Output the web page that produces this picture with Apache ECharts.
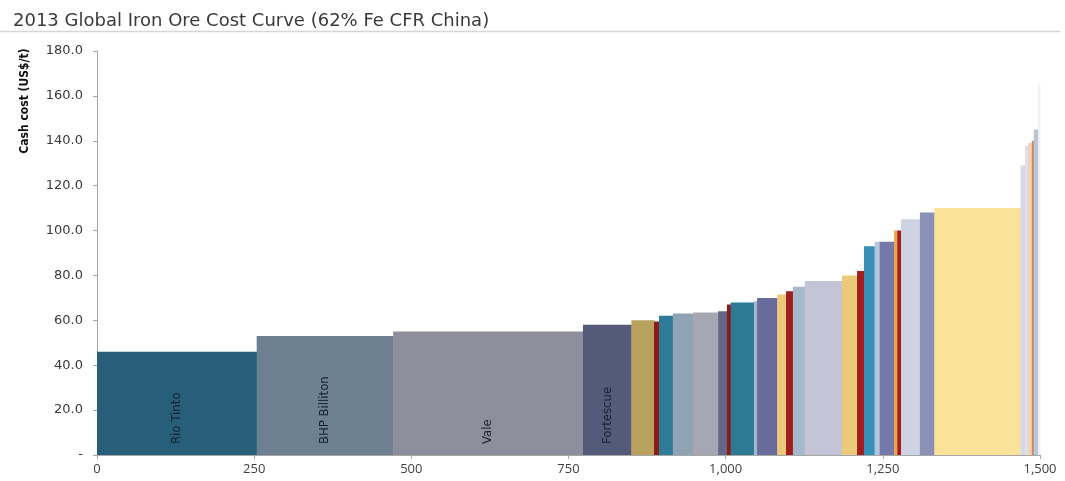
<!DOCTYPE html>
<html>
<head>
<meta charset="utf-8">
<title>2013 Global Iron Ore Cost Curve</title>
<script src="https://cdn.jsdelivr.net/npm/echarts@6/dist/echarts.min.js"></script>
<style>
  html, body { margin: 0; padding: 0; background: #fff; }
  #chart { width: 1065px; height: 481px; }
</style>
</head>
<body>
<div id="chart"></div>
<script>
// producers along the curve (only the majors are labelled)
const producers = [
  'Rio Tinto', 'BHP Billiton', 'Vale', 'Fortescue',
  '', '', '', '', '', '', '', '', '', '', '', '', '', '', '', '',
  '', '', '', '', '', '', '', '', '', '', '', '', '', ''
]
// capacity (Mt) - width of each block
const capacity = [
  254, 217, 302, 77,
  36, 8, 22, 32, 40, 14, 6, 37, 5, 32, 14, 11, 19, 59, 24, 11,
  17, 8, 23, 5, 6, 30, 23, 137, 7, 5, 6, 3, 7, 3
]
// cash cost US$/t - height of each block
const cashCost = [
  46, 53, 55, 58,
  60, 59.5, 62, 63, 63.5, 64, 67, 68, 68.5, 70, 71.5, 73, 75, 77.5, 80, 82,
  93, 95, 95, 100, 100, 105, 108, 110, 129, 138, 139, 140, 145, 165
]
const blockColors = [
  '#275f7b', '#6e8192', '#8f8e9c', '#535a7a',
  '#b9a15e', '#8c1c1c', '#2f7c98', '#8ea4b5', '#a7a7b3', '#62688a', '#8c1c1c', '#2e7a95',
  '#a3b6cc', '#686b9b', '#ecc97a', '#a21d1d', '#a5b8cc', '#c4c4d6', '#ebca7a', '#a21d1d',
  '#3990b6', '#b5c6dc', '#7479a9', '#eda448', '#a21d1d', '#cdd3e3', '#8a90b6', '#fbe29b',
  '#d5d8e6', '#dfe0ea', '#f5d3ae', '#c48a6a', '#b9c6d5', '#f1f1f5'
]

// cumulative start/end of each block
let acc = 0
const blocks = producers.map((name, i) => {
  const start = acc
  acc += capacity[i]
  return [start, acc, cashCost[i], name]
})

const chart = echarts.init(document.getElementById('chart'))

const option = {
  animation: false,
  title: {
    text: '2013 Global Iron Ore Cost Curve (62% Fe CFR China)',
    left: 8,
    top: 7,
    textStyle: {
      fontFamily: 'DejaVu Sans',
      fontSize: 18,
      fontWeight: 'normal',
      color: '#3a3a3a'
    }
  },
  graphic: [
    {
      type: 'line',
      shape: { x1: 0, y1: 31.5, x2: 1060, y2: 31.5 },
      style: { stroke: '#d6d6d6', lineWidth: 1.5 }
    },
    {
      type: 'text',
      x: 25,
      y: 101,
      rotation: Math.PI / 2,
      style: {
        text: 'Cash cost (US$/t)',
        fontFamily: '"Liberation Sans Narrow", "DejaVu Sans Condensed", sans-serif',
        fontSize: 12,
        fontWeight: 'bold',
        fill: '#111',
        align: 'center',
        verticalAlign: 'middle'
      }
    }
  ],
  grid: {
    left: 97,
    right: 25,
    top: 51,
    bottom: 26
  },
  xAxis: {
    type: 'value',
    min: 0,
    max: 1500,
    interval: 250,
    axisLine: { show: true, lineStyle: { color: '#a6a6a6' } },
    axisTick: { show: true, length: 4, lineStyle: { color: '#a6a6a6' } },
    axisLabel: {
      color: '#404040',
      fontFamily: 'Open Sans',
      fontSize: 13,
      margin: 8,
      formatter: v => v.toLocaleString('en-US')
    },
    splitLine: { show: false }
  },
  yAxis: {
    type: 'value',
    min: 0,
    max: 180,
    interval: 20,
    axisLine: { show: true, lineStyle: { color: '#a6a6a6' } },
    axisTick: { show: true, length: 4, lineStyle: { color: '#a6a6a6' } },
    axisLabel: {
      color: '#383838',
      fontFamily: 'DejaVu Sans',
      fontSize: 13,
      margin: 14,
      formatter: v => (v === 0 ? '-' : v.toFixed(1))
    },
    splitLine: { show: false }
  },
  series: [
    {
      type: 'custom',
      data: blocks,
      encode: { x: [0, 1], y: 2 },
      renderItem: function (params, api) {
        const start = api.value(0)
        const end = api.value(1)
        const cost = api.value(2)
        const name = producers[params.dataIndex]
        const p0 = api.coord([start, cost])
        const p1 = api.coord([end, 0])
        const children = [
          {
            type: 'rect',
            shape: {
              x: p0[0],
              y: p0[1],
              width: p1[0] - p0[0] + 0.4,
              height: p1[1] - p0[1]
            },
            style: { fill: blockColors[params.dataIndex] }
          }
        ]
        if (name) {
          children.push({
            type: 'text',
            x: (p0[0] + p1[0]) / 2,
            y: p1[1] - 11,
            rotation: Math.PI / 2,
            style: {
              text: name,
              fontFamily: '"Liberation Sans Narrow", "DejaVu Sans Condensed", sans-serif',
              fontSize: 13,
              fill: '#16222e',
              align: 'left',
              verticalAlign: 'middle'
            }
          })
        }
        return { type: 'group', children: children }
      }
    }
  ]
}

chart.setOption(option)
window.addEventListener('resize', () => chart.resize())
</script>
</body>
</html>
